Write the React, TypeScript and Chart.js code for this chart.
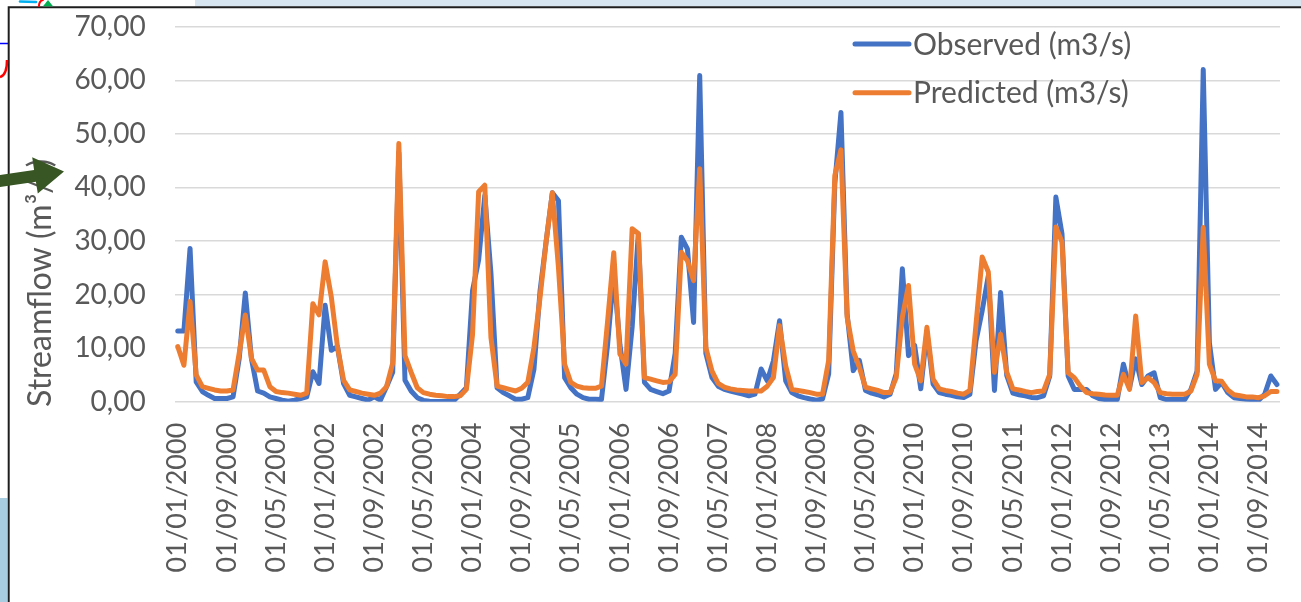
import React, { useEffect, useRef } from 'react';
import { Chart, registerables } from 'chart.js';

Chart.register(...registerables);

// Monthly streamflow, January 2000 to December 2014 (m3/s)
const OBSERVED = [
  13.2, 13.2, 28.6, 3.7, 1.9, 1.2, 0.6, 0.6, 0.6, 0.9, 8.0, 20.3,
  8.0, 2.0, 1.6, 0.9, 0.6, 0.3, 0.1, 0.3, 0.6, 0.9, 5.6, 3.4,
  18.0, 9.6, 10.3, 3.4, 1.2, 0.9, 0.6, 0.3, 0.9, 0.3, 2.8, 5.5,
  46.5, 4.0, 2.0, 0.75, 0.25, 0.1, 0.05, 0.05, 0.05, 0.25, 1.4, 2.6,
  20.7, 26.5, 38.5, 24.0, 2.6, 1.7, 1.1, 0.45, 0.45, 0.75, 6.0, 20.7,
  30.0, 39.0, 37.5, 4.5, 2.6, 1.4, 0.75, 0.45, 0.45, 0.4, 10.7, 24.0,
  10.7, 2.3, 14.0, 31.3, 3.6, 2.3, 1.9, 1.5, 2.0, 9.0, 30.7, 28.5,
  14.8, 60.9, 9.0, 4.5, 2.9, 2.3, 2.0, 1.7, 1.4, 1.1, 1.4, 6.1,
  3.9, 7.6, 15.1, 3.9, 1.7, 1.1, 0.75, 0.5, 0.3, 0.5, 5.2, 40.7,
  54.0, 16.4, 5.8, 7.7, 2.1, 1.6, 1.3, 0.9, 1.4, 5.2, 24.8, 8.6,
  10.5, 2.4, 13.0, 3.3, 1.7, 1.4, 1.2, 0.9, 0.8, 1.4, 11.4, 17.0,
  23.5, 2.1, 20.4, 4.9, 1.6, 1.3, 1.1, 0.8, 0.75, 1.1, 4.8, 38.2,
  31.3, 4.8, 2.3, 2.3, 2.3, 1.1, 0.6, 0.4, 0.4, 0.4, 7.0, 2.6,
  8.0, 3.2, 4.8, 5.4, 0.75, 0.4, 0.4, 0.4, 0.4, 2.3, 5.7, 62.0,
  11.0, 2.3, 3.6, 1.7, 0.75, 0.6, 0.45, 0.4, 0.25, 1.4, 4.8, 3.2,
];

const PREDICTED = [
  10.3, 6.8, 18.7, 5.0, 2.8, 2.5, 2.2, 2.0, 2.0, 2.2, 9.0, 16.2,
  8.1, 5.9, 5.9, 2.8, 1.9, 1.7, 1.6, 1.4, 1.2, 1.6, 18.3, 16.2,
  26.1, 19.6, 10.3, 4.0, 2.2, 1.9, 1.6, 1.4, 1.2, 1.6, 2.8, 7.2,
  48.2, 8.6, 5.5, 2.6, 1.7, 1.4, 1.2, 1.1, 0.95, 0.95, 1.1, 2.3,
  12.5, 39.2, 40.4, 12.0, 2.9, 2.6, 2.3, 2.0, 2.5, 3.6, 10.1, 19.5,
  30.0, 39.0, 25.0, 7.0, 3.6, 2.9, 2.6, 2.5, 2.5, 2.9, 15.0, 27.8,
  8.9, 7.0, 32.3, 31.4, 4.5, 4.2, 3.9, 3.6, 3.7, 5.1, 27.9, 26.3,
  22.6, 43.5, 10.1, 5.7, 3.4, 2.7, 2.4, 2.2, 2.1, 2.0, 2.0, 2.0,
  2.9, 4.5, 14.2, 6.7, 2.3, 2.1, 1.9, 1.7, 1.4, 1.4, 7.7, 42.2,
  47.0, 15.8, 9.5, 6.4, 2.7, 2.4, 2.1, 1.7, 1.7, 4.5, 15.8, 21.7,
  7.0, 3.9, 13.9, 4.2, 2.4, 2.1, 1.9, 1.6, 1.4, 2.1, 14.5, 27.0,
  24.2, 5.5, 12.6, 5.5, 2.4, 2.2, 1.9, 1.7, 1.9, 2.0, 5.1, 32.6,
  29.8, 5.4, 4.5, 2.9, 1.7, 1.5, 1.4, 1.25, 1.2, 1.2, 5.1, 2.3,
  16.0, 3.6, 4.5, 3.6, 1.7, 1.5, 1.4, 1.4, 1.4, 2.0, 5.1, 32.5,
  7.0, 3.9, 3.8, 2.2, 1.3, 1.1, 0.9, 0.9, 0.75, 1.1, 1.9, 1.9,
];

const START_YEAR = 2000;
const MONTH_LABELS = OBSERVED.map((_, i) => {
  const month = String((i % 12) + 1).padStart(2, '0');
  return `01/${month}/${START_YEAR + Math.floor(i / 12)}`;
});
const TICK_EVERY = 8;

const SERIES_NAMES = ['Observed (m3/s)', 'Predicted (m3/s)'];
const SERIES_COLORS = ['#4472C4', '#ED7D31'];
const AXIS_TITLE = 'Streamflow (m³/s)';
const Y_MIN = 0;
const Y_MAX = 70;
const Y_STEP = 10;

const FONT = 'Lato, "Open Sans", sans-serif';
const TEXT_COLOR = '#595959';

const W = 1301;
const H = 602;

// Legend drawn inside the plot area, top right
const legendPlugin = {
  id: 'insideLegend',
  afterDraw(chart: any) {
    const { ctx } = chart;
    ctx.save();
    const rows = [54.8, 103.3];
    const mids = [44, 92.7];
    chart.data.datasets.forEach((ds: any, i: number) => {
      ctx.strokeStyle = ds.borderColor;
      ctx.lineWidth = 5;
      ctx.lineCap = 'round';
      ctx.beginPath();
      ctx.moveTo(855, mids[i]);
      ctx.lineTo(909, mids[i]);
      ctx.stroke();
      ctx.fillStyle = TEXT_COLOR;
      ctx.font = `30px ${FONT}`;
      ctx.textAlign = 'left';
      ctx.textBaseline = 'alphabetic';
      ctx.fillText(ds.label, 913, rows[i]);
    });
    ctx.restore();
  },
};

// Axis title, frame and annotation marks around the plot
const framePlugin = {
  id: 'frame',
  beforeDraw(chart: any) {
    const { ctx } = chart;
    ctx.save();
    ctx.fillStyle = '#ffffff';
    ctx.fillRect(0, 0, W, H);
    ctx.fillStyle = '#d6e5ef';
    ctx.fillRect(195, 0, W - 195, 6.5);
    ctx.fillStyle = '#a8cce0';
    ctx.fillRect(0, 498, 7.5, H - 498);
    ctx.restore();
  },
  afterDraw(chart: any) {
    const { ctx } = chart;
    ctx.save();

    // vertical axis title
    ctx.fillStyle = TEXT_COLOR;
    ctx.font = `32px ${FONT}`;
    ctx.translate(50.5, 407);
    ctx.rotate(-Math.PI / 2);
    ctx.textAlign = 'left';
    ctx.textBaseline = 'alphabetic';
    ctx.fillText(AXIS_TITLE, 0, 0);
    ctx.setTransform(1, 0, 0, 1, 0, 0);

    // outer frame
    ctx.strokeStyle = '#1e1e1e';
    ctx.lineWidth = 2;
    ctx.beginPath();
    ctx.moveTo(W, 7.3);
    ctx.lineTo(8.7, 7.3);
    ctx.lineTo(8.7, H);
    ctx.stroke();

    // small marks outside the frame
    ctx.lineCap = 'round';
    ctx.strokeStyle = '#00b0f0';
    ctx.lineWidth = 2.5;
    ctx.beginPath();
    ctx.moveTo(20, 1.5);
    ctx.lineTo(36, 2);
    ctx.stroke();
    ctx.strokeStyle = '#ff0000';
    ctx.lineWidth = 2;
    ctx.beginPath();
    ctx.moveTo(39, 6);
    ctx.quadraticCurveTo(39, 1, 43, 0);
    ctx.stroke();
    ctx.fillStyle = '#00b050';
    ctx.beginPath();
    ctx.moveTo(43, 6.3);
    ctx.lineTo(53, 6.3);
    ctx.lineTo(48, 0);
    ctx.closePath();
    ctx.fill();
    ctx.strokeStyle = '#0000ff';
    ctx.lineWidth = 1.5;
    ctx.lineCap = 'butt';
    ctx.beginPath();
    ctx.moveTo(0, 43.5);
    ctx.lineTo(8, 43.5);
    ctx.stroke();
    ctx.strokeStyle = '#ff0000';
    ctx.lineWidth = 2.5;
    ctx.beginPath();
    ctx.moveTo(7, 60);
    ctx.quadraticCurveTo(7, 75, 0, 77);
    ctx.stroke();

    // green pointer arrow
    ctx.fillStyle = '#375623';
    ctx.beginPath();
    ctx.moveTo(0, 175);
    ctx.lineTo(34.1, 169.9);
    ctx.lineTo(32.2, 157.2);
    ctx.lineTo(64, 171.5);
    ctx.lineTo(37.8, 193.6);
    ctx.lineTo(35.9, 181.7);
    ctx.lineTo(0, 187);
    ctx.closePath();
    ctx.fill();

    ctx.restore();
  },
};

export default function App() {
  const canvasRef = useRef<HTMLCanvasElement | null>(null);

  useEffect(() => {
    const canvas = canvasRef.current;
    if (!canvas) return;
    const chart = new Chart(canvas, {
      type: 'line',
      data: {
        labels: MONTH_LABELS,
        datasets: [
          {
            label: SERIES_NAMES[0],
            data: OBSERVED,
            borderColor: SERIES_COLORS[0],
            backgroundColor: SERIES_COLORS[0],
            borderWidth: 5,
            pointRadius: 0,
            tension: 0,
            borderJoinStyle: 'round',
            borderCapStyle: 'round',
            order: 2,
          },
          {
            label: SERIES_NAMES[1],
            data: PREDICTED,
            borderColor: SERIES_COLORS[1],
            backgroundColor: SERIES_COLORS[1],
            borderWidth: 5,
            pointRadius: 0,
            tension: 0,
            borderJoinStyle: 'round',
            borderCapStyle: 'round',
            order: 1,
          },
        ],
      },
      options: {
        animation: false,
        responsive: false,
        devicePixelRatio: 1,
        layout: { padding: { top: 26.7, right: 21, left: 0, bottom: 0 } },
        plugins: {
          legend: { display: false },
          tooltip: { enabled: false },
        },
        scales: {
          x: {
            type: 'category',
            offset: true,
            grid: { display: false, drawTicks: false },
            border: { display: false },
            ticks: {
              autoSkip: false,
              minRotation: 90,
              maxRotation: 90,
              padding: 21,
              color: TEXT_COLOR,
              font: { family: FONT, size: 27 },
              callback: (_v: any, i: number) => (i % TICK_EVERY === 0 ? MONTH_LABELS[i] : ''),
            },
            afterFit: (scale: any) => {
              scale.height = H - 401.7;
              scale.paddingLeft = 0;
              scale.paddingRight = 0;
            },
          },
          y: {
            min: Y_MIN,
            max: Y_MAX,
            grid: { color: '#d9d9d9', lineWidth: 1.5, drawTicks: false },
            border: { display: false },
            ticks: {
              stepSize: Y_STEP,
              padding: 29,
              color: TEXT_COLOR,
              font: { family: FONT, size: 28 },
              callback: (v: any) => Number(v).toFixed(2).replace('.', ','),
            },
            afterFit: (scale: any) => {
              scale.width = 174.7;
              scale.paddingTop = 0;
              scale.paddingBottom = 0;
            },
          },
        },
      },
      plugins: [framePlugin, legendPlugin],
    });
    return () => chart.destroy();
  }, []);

  return (
    <div style={{ position: 'absolute', left: 0, top: 0, width: W, height: H }}>
      <canvas ref={canvasRef} width={W} height={H} style={{ display: 'block' }} />
    </div>
  );
}
